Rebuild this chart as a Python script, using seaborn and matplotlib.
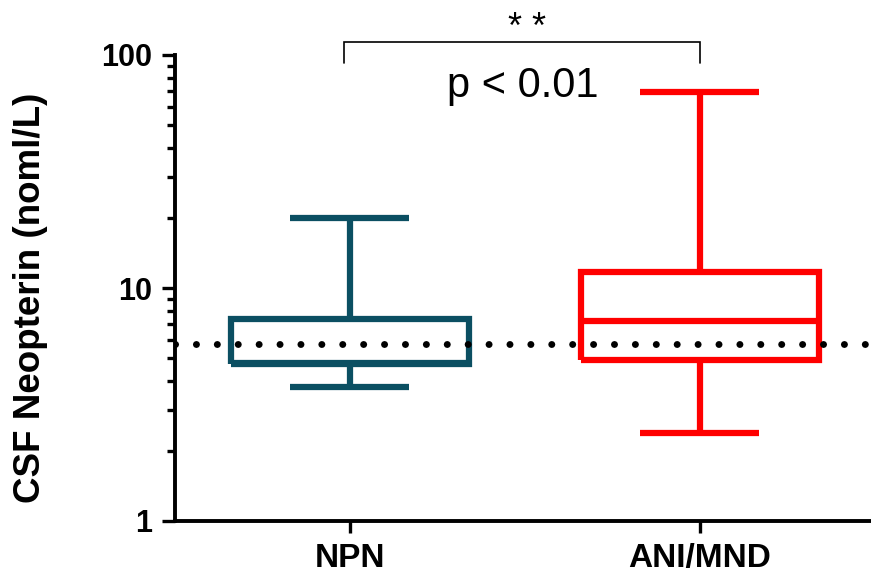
import numpy as np
import pandas as pd
import seaborn as sns
import matplotlib
matplotlib.use("Agg")
import matplotlib.pyplot as plt
from matplotlib.ticker import FixedLocator, LogLocator, NullFormatter

# ---- data ----
groups = ["NPN", "ANI/MND"]
# five-number summaries: min, Q1, median, Q3, max
npn_values = [3.76, 4.72, 4.78, 7.36, 20.0]
ani_values = [2.39, 4.91, 7.21, 11.7, 69.4]
reference_level = 5.75
y_ticks = [1, 10, 100]
y_tick_labels = ["1", "10", "100"]
colors = {"NPN": "#0B4F62", "ANI/MND": "#FF0000"}
sig_stars = "* *"
p_text = "p < 0.01"
y_label = "CSF Neopterin (noml/L)"

df = pd.DataFrame({
    "group": ["NPN"] * len(npn_values) + ["ANI/MND"] * len(ani_values),
    "value": npn_values + ani_values,
})

sns.set_style("ticks")
plt.rcParams["font.family"] = ["Liberation Sans", "DejaVu Sans"]
for k in ["text.color", "axes.labelcolor", "xtick.color", "ytick.color",
          "axes.edgecolor"]:
    plt.rcParams[k] = "black"

fig = plt.figure(figsize=(8.71, 5.75), dpi=100)
ax = fig.add_axes([175 / 871, 54 / 575, 696 / 871, 466 / 575])

ax.set_yscale("log")
sns.boxplot(data=df, x="group", y="value", hue="group", order=groups,
            hue_order=groups, palette=colors, fill=False, linewidth=4.5,
            whis=(0, 100), width=0.68, legend=False, ax=ax, showfliers=False)

for line in ax.lines:
    line.set_solid_capstyle("butt")
    line.set_solid_joinstyle("miter")
for p in ax.patches:
    p.set_joinstyle("round")

ax.axhline(reference_level, color="black", lw=5, linestyle=(0, (0.01, 3)),
           dash_capstyle="round", zorder=5)

ax.set_ylim(1, 100)
ax.set_xlim(-0.5, 1.49)

ax.yaxis.set_major_locator(FixedLocator(y_ticks))
ax.set_yticklabels(y_tick_labels)
ax.yaxis.set_minor_locator(LogLocator(base=10, subs=np.arange(2, 10)))
ax.yaxis.set_minor_formatter(NullFormatter())

for s in ["top", "right"]:
    ax.spines[s].set_visible(False)
for s in ["left", "bottom"]:
    ax.spines[s].set_linewidth(2.8)
    ax.spines[s].set_color("black")

ax.tick_params(axis="y", which="major", length=9.5, width=2.4, labelsize=22, pad=7)
ax.tick_params(axis="y", which="minor", length=6, width=2.4)
ax.tick_params(axis="x", which="major", length=8.5, width=2.4, labelsize=24, pad=7)
for t in ax.get_yticklabels() + ax.get_xticklabels():
    t.set_fontweight("bold")

ax.set_xlabel("")
ax.set_ylabel(y_label, fontsize=26.5, fontweight="bold")
ax.yaxis.set_label_coords(-0.183, 0.479)

# significance bracket
x0, x1 = -0.017, 1.0
y_low, y_high = 92.4, 113.7
ax.plot([x0, x0, x1, x1], [y_low, y_high, y_high, y_low], color="black",
        lw=1.2, clip_on=False, solid_joinstyle="miter")
ax.text(0.506, 118, sig_stars, ha="center", va="baseline", fontsize=26,
        clip_on=False)
ax.text(0.494, 66, p_text, ha="center", va="baseline", fontsize=30)

fig.savefig("out.png", dpi=100)
